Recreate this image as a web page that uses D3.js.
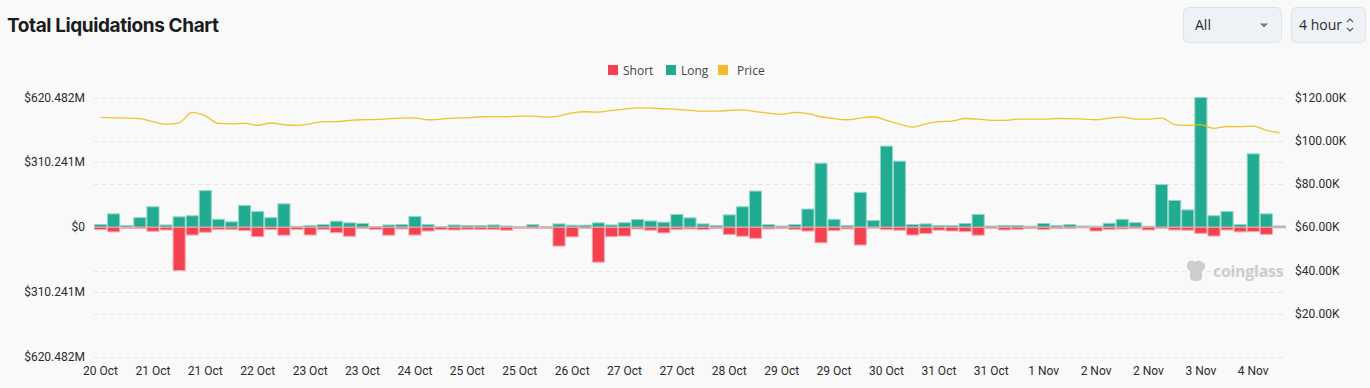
<!DOCTYPE html>
<html>
<head>
<meta charset="utf-8">
<script src="https://cdn.jsdelivr.net/npm/d3@7"></script>
<style>
  body { margin: 0; background: #f9f9f9; }
  svg { display: block; }
  .grid line { stroke: #e6e6e6; stroke-dasharray: 5,3; }
  .tick-label { font-family: Roboto, sans-serif; font-size: 12px; fill: #2b2b2b; }
</style>
</head>
<body>
<svg width="1370" height="388"></svg>
<script>
// 4 hour buckets, 20 Oct 08:00 -> 4 Nov 08:00
const categories = [
  "10-20 08:00","10-20 12:00","10-20 16:00","10-20 20:00",
  "10-21 00:00","10-21 04:00","10-21 08:00","10-21 12:00","10-21 16:00","10-21 20:00",
  "10-22 00:00","10-22 04:00","10-22 08:00","10-22 12:00","10-22 16:00","10-22 20:00",
  "10-23 00:00","10-23 04:00","10-23 08:00","10-23 12:00","10-23 16:00","10-23 20:00",
  "10-24 00:00","10-24 04:00","10-24 08:00","10-24 12:00","10-24 16:00","10-24 20:00",
  "10-25 00:00","10-25 04:00","10-25 08:00","10-25 12:00","10-25 16:00","10-25 20:00",
  "10-26 00:00","10-26 04:00","10-26 08:00","10-26 12:00","10-26 16:00","10-26 20:00",
  "10-27 00:00","10-27 04:00","10-27 08:00","10-27 12:00","10-27 16:00","10-27 20:00",
  "10-28 00:00","10-28 04:00","10-28 08:00","10-28 12:00","10-28 16:00","10-28 20:00",
  "10-29 00:00","10-29 04:00","10-29 08:00","10-29 12:00","10-29 16:00","10-29 20:00",
  "10-30 00:00","10-30 04:00","10-30 08:00","10-30 12:00","10-30 16:00","10-30 20:00",
  "10-31 00:00","10-31 04:00","10-31 08:00","10-31 12:00","10-31 16:00","10-31 20:00",
  "11-01 00:00","11-01 04:00","11-01 08:00","11-01 12:00","11-01 16:00","11-01 20:00",
  "11-02 00:00","11-02 04:00","11-02 08:00","11-02 12:00","11-02 16:00","11-02 20:00",
  "11-03 00:00","11-03 04:00","11-03 08:00","11-03 12:00","11-03 16:00","11-03 20:00",
  "11-04 00:00","11-04 04:00","11-04 08:00"
];

// long liquidations, $M
const longVals = [
  13, 64, 8, 46, 98, 11, 50, 55, 175, 38, 26, 104, 75, 46, 112, 5, 8, 13, 29, 21, 18, 3, 11,
  13, 51, 13, 3, 11, 8, 8, 11, 6, 3, 13, 3, 16, 10, 10, 21, 11, 22, 37, 30, 24, 61,
  45, 16, 8, 59, 98, 173, 13, 6, 13, 87, 306, 38, 8, 167, 32, 388, 316, 13, 16, 8, 8, 18, 61,
  6, 8, 8, 5, 18, 8, 13, 6, 5, 19, 38, 22, 5, 204, 128, 83, 620.482, 55, 75, 13, 351, 64, 6
];

// short liquidations, $M (drawn below zero)
const shortVals = [
  11, 22, 5, 6, 19, 13, 207, 37, 24, 10, 10, 16, 45, 11, 38, 10, 37, 10, 26, 43, 6, 10, 38,
  8, 37, 18, 11, 13, 10, 10, 10, 14, 5, 6, 5, 90, 46, 6, 167, 45, 42, 8, 14, 27, 10,
  8, 11, 6, 35, 43, 53, 8, 6, 10, 18, 74, 16, 8, 85, 5, 11, 14, 37, 30, 14, 18, 21, 38,
  6, 13, 10, 6, 11, 6, 6, 3, 18, 10, 8, 6, 13, 6, 13, 14, 29, 42, 13, 22, 21, 34, 3
];

// BTC price, $K
const priceVals = [
  110.8, 110.6, 110.5, 110.2, 108.8, 107.7, 108.3, 113.1, 111.5, 108.0, 107.8, 108.0, 107.1, 108.2, 107.4, 107.1, 107.8, 108.8, 108.8, 109.4, 109.7, 109.8, 110.2,
  110.5, 110.6, 109.7, 110.0, 110.5, 110.6, 111.1, 111.2, 111.1, 111.4, 111.4, 110.9, 111.4, 112.9, 113.4, 113.2, 114.0, 114.6, 115.2, 115.1, 114.8, 114.5,
  114.0, 113.7, 113.7, 114.0, 114.3, 113.5, 112.8, 112.2, 113.1, 112.5, 111.1, 110.2, 109.7, 110.5, 111.1, 109.4, 107.7, 106.3, 107.8, 108.8, 109.1, 110.3, 110.0,
  109.4, 109.4, 110.0, 110.0, 110.0, 110.3, 110.2, 110.0, 109.7, 110.5, 110.9, 110.0, 110.0, 110.5, 107.5, 107.1, 107.4, 105.7, 106.6, 106.5, 106.8, 104.8, 103.7
];

// x labels, one every 4 buckets
const xTickLabels = [
  "20 Oct","21 Oct","21 Oct","22 Oct","23 Oct","23 Oct","24 Oct","25 Oct","25 Oct","26 Oct","27 Oct","27 Oct",
  "28 Oct","29 Oct","29 Oct","30 Oct","31 Oct","31 Oct","1 Nov","2 Nov","2 Nov","3 Nov","4 Nov"
];
const leftTicks = [-620.482, -310.241, 0, 310.241, 620.482];
const rightTicks = [0, 20, 40, 60, 80, 100, 120];

const svg = d3.select("svg");

const x = d3.scaleBand().domain(categories).range([94, 1286]).padding(0);
const yL = d3.scaleLinear().domain([-620.482, 620.482]).range([357, 97.5]);
const yR = d3.scaleLinear().domain([0, 120]).range([357, 97.5]);

const green = "#21ac92", red = "#f5414f", gold = "#f0b90b";

// title
svg.append("text")
    .attr("x", 7).attr("y", 32)
    .style("font-family", "Inter, sans-serif")
    .style("font-weight", 700)
    .style("font-size", "19px")
    .style("letter-spacing", "-0.4px")
    .attr("fill", "#1b1c1f")
    .text("Total Liquidations Chart");

// dropdowns top right
const ctrl = svg.append("g").style("font-family", "'Open Sans', sans-serif").style("font-size", "14px");
ctrl.append("rect").attr("x", 1183.5).attr("y", 7.5).attr("width", 98).attr("height", 35).attr("rx", 5)
    .attr("fill", "#eef1f5").attr("stroke", "#dde3ea");
ctrl.append("text").attr("x", 1195).attr("y", 30).attr("fill", "#2b2b2b").text("All");
ctrl.append("path").attr("d", "M1260,23.5 L1268,23.5 L1264,27.5 Z").attr("fill", "#777");
ctrl.append("rect").attr("x", 1291.5).attr("y", 7.5).attr("width", 74).attr("height", 35).attr("rx", 5)
    .attr("fill", "#eef1f5").attr("stroke", "#dde3ea");
ctrl.append("text").attr("x", 1299).attr("y", 30).attr("fill", "#2b2b2b").text("4 hour");
ctrl.append("path").attr("d", "M1347,22 L1350,19 L1353,22 M1347,28 L1350,31 L1353,28")
    .attr("fill", "none").attr("stroke", "#555").attr("stroke-width", 1.1);

// legend
const legendItems = [
  { name: "Short", color: red, x: 608 },
  { name: "Long", color: green, x: 666 },
  { name: "Price", color: "#f3ba2f", x: 718 }
];
const legend = svg.append("g").selectAll("g").data(legendItems).enter().append("g")
    .attr("transform", function(d) { return "translate(" + d.x + ",65)"; });
legend.append("rect").attr("width", 10).attr("height", 10).attr("fill", function(d) { return d.color; });
legend.append("text").attr("x", function(d) { return d.name == "Price" ? 19 : 15; }).attr("y", 9.5)
    .style("font-family", "'Open Sans', sans-serif").style("font-size", "12px").attr("fill", "#444")
    .text(function(d) { return d.name; });

// grid lines from both axes
const grid = svg.append("g").attr("class", "grid");
grid.selectAll("line.l").data(leftTicks).enter().append("line")
    .attr("x1", 94).attr("x2", 1286)
    .attr("y1", function(d) { return Math.round(yL(d)) + 0.5; })
    .attr("y2", function(d) { return Math.round(yL(d)) + 0.5; });
grid.selectAll("line.r").data(rightTicks).enter().append("line")
    .attr("x1", 94).attr("x2", 1286)
    .attr("y1", function(d) { return Math.round(yR(d)) + 0.5; })
    .attr("y2", function(d) { return Math.round(yR(d)) + 0.5; });

// watermark
const wm = svg.append("g").attr("fill", "#cdcdcd");
wm.append("path").attr("d", "M1188,262 q4,-3 7,0 q3,-3 7,0 l3,2 q1,5 -3,7 l0,7 q-1,3 -6,3 q-5,0 -6,-3 l0,-7 q-4,-2 -3,-7 Z");
wm.append("text").attr("x", 1213).attr("y", 277)
    .style("font-family", "'Open Sans', sans-serif").style("font-weight", 700).style("font-size", "16px")
    .style("letter-spacing", "-0.3px")
    .text("coinglass");

// bars
const bars = svg.append("g");
bars.selectAll("rect.long").data(longVals).enter().append("rect")
    .attr("class", "long")
    .attr("x", function(d, i) { return x(categories[i]) + 0.5; })
    .attr("width", x.bandwidth() - 1)
    .attr("y", function(d) { return yL(d); })
    .attr("height", function(d) { return yL(0) - yL(d); })
    .attr("fill", green)
    .attr("stroke", "#93d6c8").attr("stroke-width", 1);
bars.selectAll("rect.short").data(shortVals).enter().append("rect")
    .attr("class", "short")
    .attr("x", function(d, i) { return x(categories[i]) + 0.5; })
    .attr("width", x.bandwidth() - 1)
    .attr("y", yL(0))
    .attr("height", function(d) { return yL(-d) - yL(0); })
    .attr("fill", red)
    .attr("stroke", "#f7a7ae").attr("stroke-width", 1);

// price line
const line = d3.line()
    .x(function(d, i) { return x(categories[i]) + x.bandwidth() / 2; })
    .y(function(d) { return yR(d); })
    .curve(d3.curveMonotoneX);
svg.append("path").datum(priceVals)
    .attr("d", line)
    .attr("fill", "none")
    .attr("stroke", gold)
    .attr("stroke-opacity", 0.85)
    .attr("stroke-width", 1.3);

// left axis labels
svg.append("g").selectAll("text").data(leftTicks).enter().append("text")
    .attr("class", "tick-label")
    .attr("x", 85).attr("y", function(d) { return yL(d) + 4; })
    .attr("text-anchor", "end")
    .text(function(d) { return d == 0 ? "$0" : "$" + d3.format(".3f")(Math.abs(d)) + "M"; });

// right axis labels
svg.append("g").selectAll("text").data(rightTicks.filter(function(d) { return d > 0; })).enter().append("text")
    .attr("class", "tick-label")
    .attr("x", 1295).attr("y", function(d) { return yR(d) + 4; })
    .text(function(d) { return "$" + d3.format(".2f")(d) + "K"; });

// x axis labels
svg.append("g").selectAll("text").data(xTickLabels).enter().append("text")
    .attr("class", "tick-label")
    .attr("x", function(d, i) { return x(categories[i * 4]) + x.bandwidth() / 2; })
    .attr("y", 375)
    .attr("text-anchor", "middle")
    .text(function(d) { return d; });
</script>
</body>
</html>
